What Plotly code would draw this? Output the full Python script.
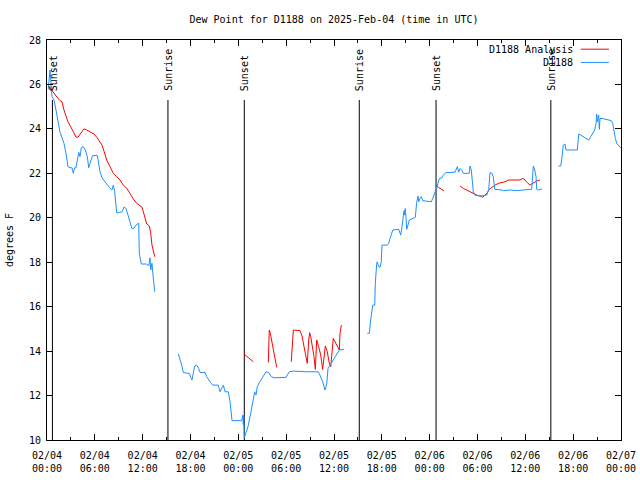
import pandas as pd
import plotly.graph_objects as go

# ---------------- data (hours after 2025-02-04 00:00 UTC, degrees F) ----------------
START = "2025-02-04 00:00"

obs_hours = [
    0.15, 0.38, 0.63, 0.88, 1.13, 1.38, 1.63, 1.88, 2.13, 2.38, 2.63, 2.89, 3.14, 3.30, 3.47,
    3.64, 3.80, 3.98, 4.14, 4.30, 4.55, 4.80, 5.06, 5.23, 5.39, 5.56, 5.73, 6.31, 6.49, 6.65,
    6.90, 7.15, 7.49, 7.90, 8.15, 8.32, 8.49, 8.66, 8.74, 9.07, 9.41, 9.66, 9.91, 10.16, 10.41,
    10.66, 10.91, 11.16, 11.50, 11.58, 11.83, 12.51, 12.76, 12.92, 13.01, 13.17, 13.33, 13.51,
    15.0,
    16.47, 16.68, 16.90, 17.10, 17.85, 18.03, 18.19, 18.35, 18.53, 18.78, 19.03, 19.19, 19.82,
    20.03, 20.28, 20.53, 20.78, 21.49, 21.70, 21.91, 22.12, 22.33, 22.74, 22.96, 23.08, 23.21,
    24.42, 24.55, 24.62, 24.68, 24.75, 24.96, 25.21, 25.55, 25.80, 26.05, 26.22, 26.38, 26.63,
    26.88, 27.13, 27.47, 27.81, 28.14, 28.47, 29.98, 30.39, 30.90, 32.58, 34.03, 34.24, 34.58,
    34.87, 35.09, 35.25, 35.59, 35.91, 36.16, 36.41, 36.67, 37.25,
    38.7,
    40.18, 40.43, 40.60, 40.77, 40.86, 41.11, 41.18, 41.36, 41.43, 41.61, 41.77, 41.93, 42.02,
    42.69, 42.86, 43.03, 43.19, 43.37, 44.12, 44.28, 44.37, 44.53, 44.62, 44.78, 44.87, 44.94,
    45.03, 45.12, 45.28, 45.45, 46.20, 46.29, 46.37, 46.54, 46.63, 46.79, 46.95, 47.13, 48.21,
    48.38, 48.54, 48.71, 48.89, 49.05, 49.21, 49.55, 49.71, 50.05, 51.18, 51.30, 51.47, 51.64,
    51.81, 52.02, 52.22, 52.97, 53.06, 53.22, 53.40, 53.48, 53.69, 54.32, 55.16, 55.41, 55.57,
    55.82, 55.98, 56.16, 57.04, 57.24, 58.08, 58.96, 59.71, 60.59, 60.80, 61.00, 61.18, 61.34,
    61.43, 61.63, 61.84, 62.09,
    63.0,
    64.14, 64.44, 64.60, 64.76, 64.98, 65.10, 66.52, 66.70, 66.95, 67.27, 67.70, 67.95, 68.20,
    68.45, 68.70, 68.87, 68.95, 69.03, 69.20, 69.28, 69.37, 69.62, 70.78, 70.96, 71.13, 71.29,
    71.47, 72.0,
]
obs_dewpt = [
    25.8, 26.65, 25.45, 25.3, 24.85, 24.25, 23.85, 23.6, 23.35, 22.9, 22.3, 22.25, 22.25, 22.0, 22.25,
    22.25, 22.6, 22.95, 22.75, 23.15, 23.2, 23.05, 22.75, 22.25, 22.45, 22.6, 22.8, 22.8, 22.3, 22.07,
    21.8, 21.67, 21.55, 21.33, 21.25, 21.47, 21.17, 20.65, 20.23, 20.23, 20.27, 20.48, 20.42, 20.12, 19.76,
    19.5, 19.53, 19.67, 19.76, 18.4, 17.92, 17.92, 17.83, 18.2, 17.65, 17.95, 17.3, 16.67,
    None,
    13.87, 13.67, 13.37, 13.03, 13.0, 12.82, 12.7, 13.0, 13.33, 13.37, 13.22, 13.04, 13.04,
    12.85, 12.7, 12.58, 12.47, 12.47, 12.17, 12.32, 12.47, 12.17, 12.17, 11.73, 11.35, 10.87,
    10.87, 11.12, 10.7, 11.1, 10.1, 10.3, 10.6, 11.2, 11.65, 12.17, 12.02, 12.4, 12.58,
    12.73, 12.85, 13.07, 13.03, 12.85, 12.8, 12.82, 13.07, 13.1, 13.07, 13.07, 12.92, 12.62,
    12.25, 12.52, 13.22, 13.45, 13.6, 13.75, 13.9, 14.05, 14.08,
    None,
    14.8, 14.8, 15.4, 15.85, 16.07, 16.07, 17.05, 17.95, 18.02, 17.8, 17.77, 18.02, 18.77,
    18.77, 18.85, 19.07, 19.3, 19.45, 19.48, 19.3, 19.22, 19.6, 19.97, 20.32, 20.12, 20.42,
    20.05, 19.48, 19.67, 19.9, 20.02, 20.65, 20.68, 20.98, 20.72, 20.87, 20.95, 20.77, 20.72,
    20.87, 21.02, 21.1, 21.35, 21.55, 21.77, 21.8, 21.92, 22.03, 22.05, 22.15, 22.3, 22.05,
    22.22, 22.15, 22.0, 22.0, 22.33, 22.15, 21.55, 21.17, 21.02, 20.98, 21.02, 21.28, 22.03,
    22.0, 21.85, 21.28, 21.25, 21.22, 21.25, 21.22, 21.25, 21.25, 21.28, 22.33, 22.15, 21.85,
    21.28, 21.25, 21.28, 21.3,
    None,
    22.33, 22.33, 22.75, 23.27, 23.32, 23.05, 23.05, 23.77, 23.72, 23.65, 23.53, 23.5, 23.65,
    23.8, 23.95, 24.25, 24.67, 24.32, 24.62, 23.98, 24.47, 24.47, 24.37, 24.25, 23.87, 23.57,
    23.35, 23.13,
]

ana_hours = [
    0.3, 0.72, 1.13, 1.63, 1.88, 2.13, 2.38, 2.63, 2.97, 3.39, 3.64, 3.89, 4.14, 4.39, 4.64,
    4.98, 5.48, 5.90, 6.31, 6.65, 6.90, 7.15, 7.49, 7.90, 8.32, 8.74, 9.16, 9.57, 10.00, 10.41,
    10.83, 11.25, 11.67, 11.92, 12.08, 12.33, 12.51, 12.83, 13.01, 13.17, 13.33, 13.51,
    20.0,
    24.71, 25.05, 25.46, 25.88,
    27.0,
    27.76, 27.88, 28.01, 28.14, 28.39, 28.56, 28.81,
    29.5,
    30.64, 30.90, 31.74, 31.99, 32.24, 32.49, 32.65, 32.83, 32.95, 33.08, 33.33, 33.49, 33.66,
    33.83, 34.08, 34.33, 34.58, 34.75, 34.91, 35.16, 35.41, 35.59, 35.75, 35.91, 36.13, 36.41,
    36.67, 36.75, 36.92,
    45.0,
    48.80, 49.08, 49.51, 49.80,
    50.8,
    51.81, 52.22, 52.64, 53.06, 53.48, 53.90, 54.32, 54.65, 54.94, 55.23, 55.48, 55.78, 56.20,
    56.61, 57.04, 57.45, 57.87, 59.33, 59.67, 59.96, 60.25, 60.59, 60.92, 61.21, 61.50, 61.84,
]
ana_dewpt = [
    25.9, 25.67, 25.48, 25.27, 25.22, 24.85, 24.55, 24.32, 24.1, 23.8, 23.63, 23.63, 23.77, 23.87, 24.0,
    23.95, 23.87, 23.77, 23.59, 23.42, 23.27, 23.0, 22.6, 22.3, 22.0, 21.85, 21.7, 21.47, 21.33, 21.1,
    20.84, 20.65, 20.52, 20.48, 20.27, 19.9, 19.72, 19.63, 19.3, 18.77, 18.55, 18.25,
    None,
    13.87, 13.78, 13.67, 13.52,
    None,
    13.49, 14.95, 14.8, 14.57, 14.12, 13.82, 13.27,
    None,
    13.52, 14.95, 14.92, 14.68, 14.2, 13.75, 13.45, 14.5, 14.83, 14.65, 14.2, 13.75, 13.18,
    14.5, 14.2, 13.82, 13.18, 13.82, 14.23, 13.97, 13.45, 13.3, 13.9, 14.57, 14.42, 14.2,
    14.05, 14.8, 15.17,
    None,
    21.47, 21.37, 21.28, 21.22,
    None,
    21.43, 21.32, 21.25, 21.17, 21.1, 21.02, 20.98, 20.92, 21.02, 21.13, 21.28, 21.37, 21.47,
    21.55, 21.58, 21.62, 21.7, 21.7, 21.77, 21.7, 21.58, 21.47, 21.55, 21.62, 21.67, 21.7,
]

sun_event_hours = [0.68, 15.17, 24.75, 39.17, 48.8, 63.2]
sun_event_labels = ["Sunset", "Sunrise", "Sunset", "Sunrise", "Sunset", "Sunrise"]

tick_hours = [0, 6, 12, 18, 24, 30, 36, 42, 48, 54, 60, 66, 72]
tick_labels = ["02/04<br>00:00", "02/04<br>06:00", "02/04<br>12:00", "02/04<br>18:00",
               "02/05<br>00:00", "02/05<br>06:00", "02/05<br>12:00", "02/05<br>18:00",
               "02/06<br>00:00", "02/06<br>06:00", "02/06<br>12:00", "02/06<br>18:00",
               "02/07<br>00:00"]
y_ticks = [10, 12, 14, 16, 18, 20, 22, 24, 26, 28]

series_names = ["D1188 Analysis", "D1188"]
series_colors = ["#ff0000", "#1e90ff"]

assert len(obs_hours) == len(obs_dewpt)
assert len(ana_hours) == len(ana_dewpt)

# ---------------- figure ----------------
base = pd.Timestamp(START)
def to_time(hours):
    return list(base + pd.to_timedelta(hours, unit="h"))

FONT = "DejaVu Sans Mono"

fig = go.Figure()
fig.add_trace(go.Scatter(x=to_time(ana_hours), y=ana_dewpt, mode="lines",
                         line=dict(color=series_colors[0], width=1),
                         connectgaps=False, name=series_names[0], hoverinfo="skip"))
fig.add_trace(go.Scatter(x=to_time(obs_hours), y=obs_dewpt, mode="lines",
                         line=dict(color=series_colors[1], width=1),
                         connectgaps=False, name=series_names[1], hoverinfo="skip"))

shapes = []
annotations = []
for h, lab in zip(to_time(sun_event_hours), sun_event_labels):
    shapes.append(dict(type="line", xref="x", yref="y", x0=h, x1=h, y0=10, y1=25.3,
                       line=dict(color="black", width=1), layer="below"))
    annotations.append(dict(x=h, y=25.62, xref="x", yref="y", text=lab, textangle=-90,
                            showarrow=False, xanchor="center", yanchor="bottom", xshift=1,
                            font=dict(family=FONT, size=10, color="black")))

# legend (gnuplot style: text right-aligned, sample to the right)
leg_y = [0.977, 0.944]
for name, col, yy in zip(series_names, series_colors, leg_y):
    annotations.append(dict(x=0.919, y=yy, xref="paper", yref="paper", text=name,
                            showarrow=False, xanchor="right", yanchor="middle",
                            font=dict(family=FONT, size=10, color="black")))
    shapes.append(dict(type="line", xref="paper", yref="paper", x0=0.930, x1=0.979,
                       y0=yy, y1=yy, line=dict(color=col, width=1)))

# y axis label
annotations.append(dict(x=-0.066, y=0.5, xref="paper", yref="paper", text="degrees F",
                        textangle=-90, showarrow=False, xanchor="center", yanchor="middle",
                        font=dict(family=FONT, size=10, color="black")))

fig.update_layout(
    width=640, height=480,
    margin=dict(l=47, r=19, t=40, b=40, autoexpand=False),
    paper_bgcolor="white", plot_bgcolor="white",
    showlegend=False,
    font=dict(family=FONT, size=10, color="black"),
    title=dict(text="Dew Point for D1188 on 2025-Feb-04 (time in UTC)",
               x=0.5, xref="paper", xanchor="center",
               y=1 - 19 / 480, yanchor="middle",
               font=dict(family=FONT, size=10, color="black")),
    shapes=shapes,
    annotations=annotations,
)
fig.update_xaxes(
    type="date",
    range=to_time([0, 72]),
    tickvals=to_time(tick_hours), ticktext=tick_labels,
    ticks="inside", ticklen=6, tickcolor="black", tickwidth=1,
    ticklabelstandoff=6,
    minor=dict(dtick=3 * 3600 * 1000, ticks="inside", ticklen=3, tickcolor="black", showgrid=False),
    showline=True, linecolor="black", linewidth=1, mirror="allticks",
    showgrid=False, zeroline=False,
    tickfont=dict(family=FONT, size=10, color="black"),
)
fig.update_yaxes(
    range=[10, 28],
    tickvals=y_ticks,
    ticks="inside", ticklen=6, tickcolor="black", tickwidth=1,
    ticklabelstandoff=3,
    showline=True, linecolor="black", linewidth=1, mirror="allticks",
    showgrid=False, zeroline=False,
    tickfont=dict(family=FONT, size=10, color="black"),
)

fig.write_html("out.html", config={"displayModeBar": False},
               post_script="document.body.style.margin='0';")
